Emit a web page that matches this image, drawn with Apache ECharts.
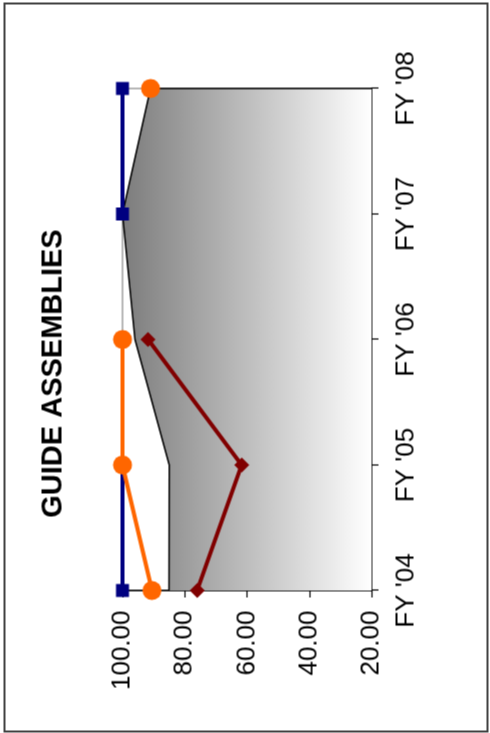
<!DOCTYPE html>
<html><head><meta charset="utf-8">
<script src="https://cdn.jsdelivr.net/npm/echarts@6/dist/echarts.min.js"></script>
<style>
html,body{margin:0;padding:0;background:#fff;overflow:hidden;width:490px;height:733px;}
#c{position:absolute;width:733px;height:490px;left:-121.5px;top:121.5px;transform:rotate(-90deg);transform-origin:50% 50%;}
</style></head><body>
<div id="c"></div>
<script>
const title = "GUIDE ASSEMBLIES";
const categories = ["FY '04", "FY '05", "FY '06", "FY '07", "FY '08"];
const areaValues = [85.1, 85.0, 96.0, 100, 91];
const blueValues = [100, 100, null, 100, 100];
const orangeValues = [90.5, 100, 100, null, 91];
const redValues = [76, 61.7, 91.8, null, null];
const valueTicks = [20, 40, 60, 80, 100];

const font = 'Liberation Sans, Arial, sans-serif';
const chart = echarts.init(document.getElementById('c'), null, {renderer:'canvas'});
chart.setOption({
  animation:false,
  backgroundColor:'#fff',
  title:{text:title,left:355,top:33,textAlign:'center',
    textStyle:{fontFamily:font,fontSize:29,fontWeight:'bold',color:'#000'}},
  graphic:[{type:'rect',shape:{x:2,y:4,width:728,height:483},
    style:{fill:'none',stroke:'#404040',lineWidth:2},z:-1}],
  grid:{left:143,right:88,top:122,bottom:119,show:true,borderColor:'#a0a0a0',borderWidth:1.5,backgroundColor:'transparent'},
  xAxis:{type:'category',data:categories,boundaryGap:false,
    axisLine:{lineStyle:{color:'#000',width:1.5}},
    axisTick:{show:true,length:7,lineStyle:{color:'#000',width:1.2}},
    axisLabel:{margin:22,color:'#000',fontFamily:font,fontSize:26},
    splitLine:{show:false}},
  yAxis:{type:'value',min:valueTicks[0],max:valueTicks[valueTicks.length-1],interval:20,
    axisLine:{show:true,lineStyle:{color:'#000',width:1.5}},
    axisTick:{show:true,length:7,lineStyle:{color:'#000',width:1.2}},
    axisLabel:{margin:20,color:'#000',fontFamily:font,fontSize:26,formatter:v=>v.toFixed(2)},
    splitLine:{show:false}},
  series:[
    {type:'line',data:areaValues,symbol:'none',z:1,
      lineStyle:{color:'#000',width:1.5},
      areaStyle:{origin:'start',opacity:1,color:new echarts.graphic.LinearGradient(0,0,0,1,[{offset:0,color:'#7c7c7c'},{offset:1,color:'#ffffff'}])},
      markLine:{silent:true,symbol:'none',label:{show:false},lineStyle:{color:'#000',width:1.5,type:'solid'},
        data:[[{coord:[categories[4],valueTicks[0]]},{coord:[categories[4],areaValues[4]]}]]}},
    {type:'line',data:redValues,symbol:'diamond',symbolSize:15,z:3,
      lineStyle:{color:'#800000',width:4},itemStyle:{color:'#800000'}},
    {type:'line',data:blueValues,symbol:'rect',symbolSize:13,z:4,connectNulls:false,
      lineStyle:{color:'#000080',width:4},itemStyle:{color:'#000080'}},
    {type:'line',data:orangeValues,symbol:'circle',symbolSize:19,z:5,connectNulls:false,showAllSymbol:true,
      lineStyle:{color:'#ff6600',width:4},itemStyle:{color:'#ff6600'}}
  ]
});
</script>
</body></html>
